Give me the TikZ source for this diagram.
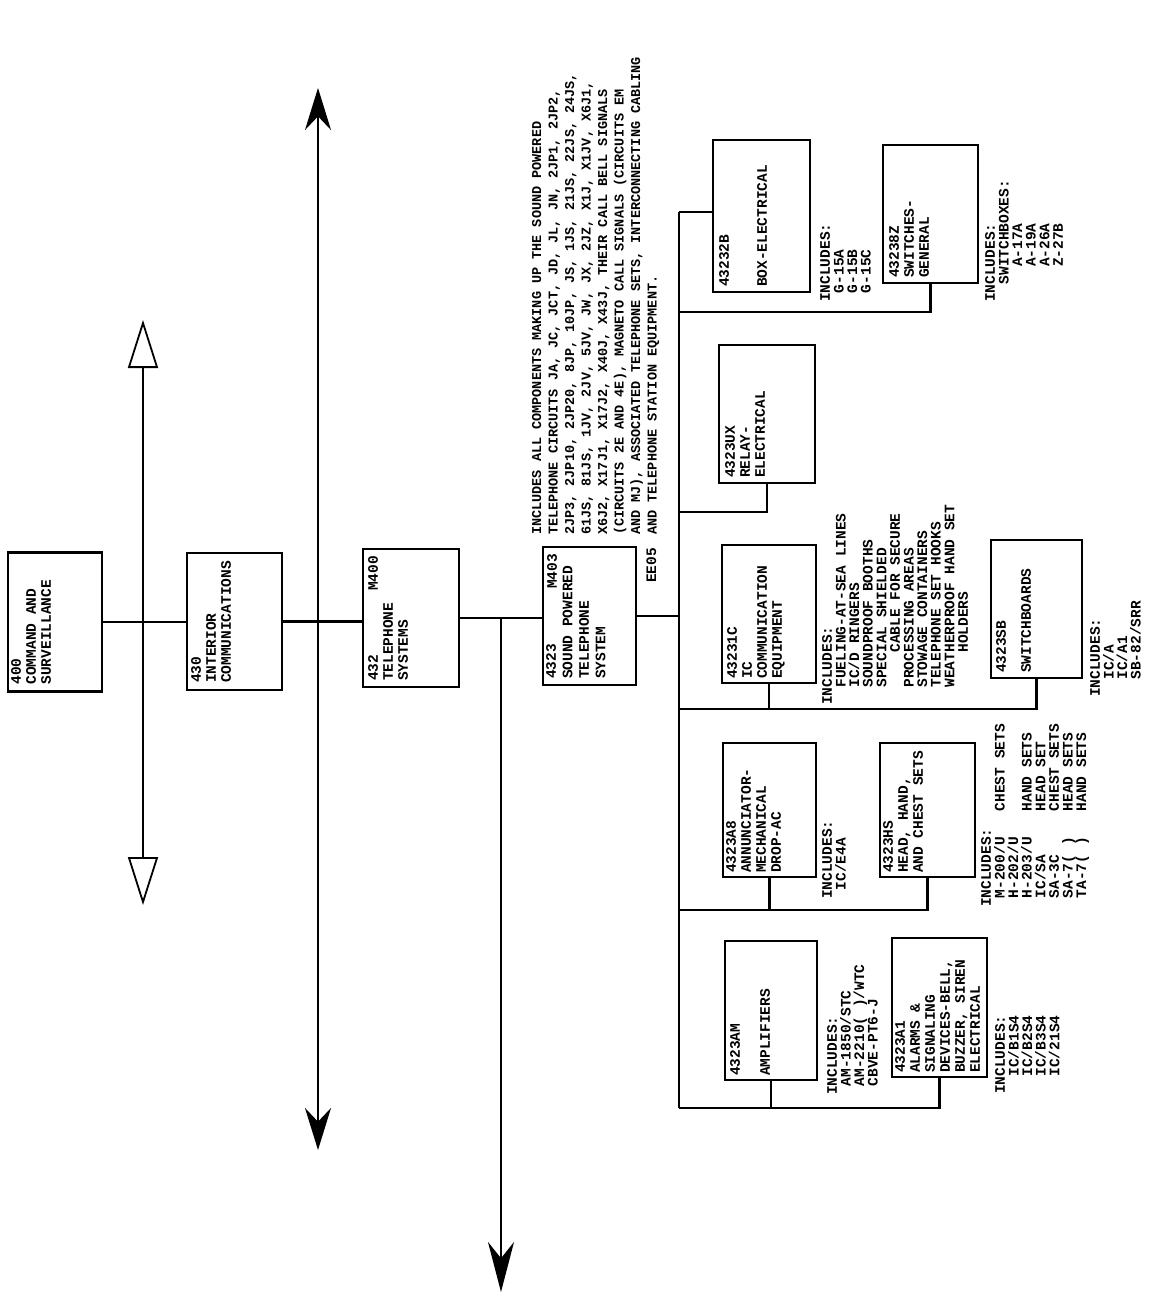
\documentclass[tikz,border=0pt]{standalone}
\usepackage{fontspec}
\setmonofont{Liberation Mono}
\usetikzlibrary{arrows.meta}

\newcommand{\boxfont}{\ttfamily\bfseries\fontsize{14.5}{15}\selectfont}
\newcommand{\listfont}{\ttfamily\bfseries\fontsize{14.5}{13.6}\selectfont}
\newcommand{\notefont}{\ttfamily\bfseries\fontsize{13.5}{16.5}\selectfont}
\newcommand{\ind}[1]{\phantom{#1}}

\begin{document}
\begin{tikzpicture}[x=1pt,y=-1pt,
  blk/.style={draw,line width=2.2pt,inner sep=0pt},
  lbl/.style={rotate=90,anchor=north west,align=left,inner sep=0pt,font=\boxfont},
  lst/.style={lbl,font=\listfont},
  wire/.style={line width=2.2pt},
  hollow/.style={line width=1.8pt,{Triangle[open,length=48pt,width=30pt]}-{Triangle[open,length=48pt,width=30pt]}},
  solid/.style={line width=2.2pt,{Stealth[length=42pt,width=26pt]}-{Stealth[length=42pt,width=26pt]}}]

\useasboundingbox (0,0) rectangle (1168,1300);

% cadena principal
\node[blk,minimum width=94pt,minimum height=139pt] (cmd) at (55,622) {};
\node[blk,minimum width=95pt,minimum height=137pt] (icm) at (234.5,621.5) {};
\node[blk,minimum width=96pt,minimum height=138pt] (tel) at (411,618) {};
\node[blk,minimum width=93pt,minimum height=138pt] (spt) at (589.5,616) {};

\node[lbl] (cmdt) at ([shift={(4,-8)}]cmd.south west) {400\\COMMAND AND\\SURVEILLANCE};
\node[lbl] (icmt) at ([shift={(5,-8)}]icm.south west) {430\\INTERIOR\\COMMUNICATIONS};
\node[lbl] (telt) at ([shift={(6,-7)}]tel.south west) {432\\TELEPHONE\\SYSTEMS};
\node[lbl,anchor=north east] (teln) at ([shift={(6,8)}]tel.north west) {M400};
\node[lbl,font=\ttfamily\bfseries\fontsize{14.5}{16.5}\selectfont] (sptt) at ([shift={(4,-7)}]spt.south west) {4323\\SOUND POWERED\\TELEPHONE\\SYSTEM};
\node[lbl,anchor=north east] (sptn) at ([shift={(5,8)}]spt.north west) {M403};
\node[lbl,anchor=north east] (ee) at ([shift={(9,2)}]spt.north east) {EE05};

% nota
\node[lbl,font=\notefont] (note) at (532,535) {INCLUDES ALL COMPONENTS MAKING UP THE SOUND POWERED\\TELEPHONE CIRCUITS JA, JC, JCT, JD, JL, JN, 2JP1, 2JP2,\\2JP3, 2JP10, 2JP20, 8JP, 10JP, JS, 1JS, 21JS, 22JS, 24JS,\\61JS, 81JS, 1JV, 2JV, 5JV, JW, JX, 2JZ, X1J, X1JV, X6J1,\\X6J2, X17J1, X17J2, X40J, X43J, THEIR CALL BELL SIGNALS\\(CIRCUITS 2E AND 4E), MAGNETO CALL SIGNALS (CIRCUITS EM\\AND MJ), ASSOCIATED TELEPHONE SETS, INTERCONNECTING CABLING\\AND TELEPHONE STATION EQUIPMENT.};

% ramas
\node[blk,minimum width=97pt,minimum height=152pt] (box) at (761.5,216) {};
\node[blk,minimum width=95pt,minimum height=138pt] (swg) at (930.5,214) {};
\node[blk,minimum width=96pt,minimum height=138pt] (rly) at (767,414) {};
\node[blk,minimum width=94pt,minimum height=138pt] (icc) at (769,614) {};
\node[blk,minimum width=91pt,minimum height=138pt] (swb) at (1036.5,609) {};
\node[blk,minimum width=93pt,minimum height=134pt] (ann) at (769.5,810) {};
\node[blk,minimum width=95pt,minimum height=134pt] (hhc) at (927.5,810) {};
\node[blk,minimum width=92pt,minimum height=139pt] (amp) at (771,1010.5) {};
\node[blk,minimum width=95pt,minimum height=139pt] (alm) at (939.5,1007.5) {};

\node[lbl] (boxt) at ([shift={(7,-6)}]box.south west) {43232B\\[23pt]BOX-ELECTRICAL};
\node[lbl] (swgt) at ([shift={(7,-6)}]swg.south west) {43238Z\\SWITCHES-\\GENERAL};
\node[lbl] (rlyt) at ([shift={(7,-6)}]rly.south west) {4323UX\\RELAY-\\ELECTRICAL};
\node[lbl] (icct) at ([shift={(6,-5)}]icc.south west) {43231C\\IC\\COMMUNICATION\\EQUIPMENT};
\node[lbl] (swbt) at ([shift={(6,-6)}]swb.south west) {4323SB\\[10pt]SWITCHBOARDS};
\node[lbl] (annt) at ([shift={(4,-5)}]ann.south west) {4323A8\\ANNUNCIATOR-\\MECHANICAL\\DROP-AC};
\node[lbl] (hhct) at ([shift={(4,-5)}]hhc.south west) {4323HS\\HEAD, HAND,\\AND CHEST SETS};
\node[lbl] (ampt) at ([shift={(6,-5)}]amp.south west) {4323AM\\[15pt]AMPLIFIERS};
\node[lbl] (almt) at ([shift={(4,-5)}]alm.south west) {4323A1\\ALARMS \&\\SIGNALING\\DEVICES-BELL,\\BUZZER, SIREN\\ELECTRICAL};

% listas
\node[lst] (boxl) at (820,302) {INCLUDES:\\\ind{X}G-15A\\\ind{X}G-15B\\\ind{X}G-15C};
\node[lst] (swgl) at (985,302) {INCLUDES:\\\ind{XX}SWITCHBOXES:\\\ind{XXXX}A-17A\\\ind{XXXX}A-19A\\\ind{XXXX}A-26A\\\ind{XXXX}Z-27B};
\node[lst] (iccl) at (822,705) {INCLUDES:\\\ind{XX}FUELING-AT-SEA LINES\\\ind{XX}IC/D RINGERS\\\ind{XX}SOUNDPROOF BOOTHS\\\ind{XX}SPECIAL SHIELDED\\\ind{XXXXXX}CABLE FOR SECURE\\\ind{XX}PROCESSING AREAS\\\ind{XX}STOWAGE CONTAINERS\\\ind{XX}TELEPHONE SET HOOKS\\\ind{XX}WEATHERPROOF HAND SET\\\ind{XXXXXX}HOLDERS};
\node[lst] (swbl) at (1090,697) {INCLUDES:\\\ind{XX}IC/A\\\ind{XX}IC/A1\\\ind{XX}SB-82/SRR};
\node[lst] (annl) at (822,899) {INCLUDES:\\\ind{X}IC/E4A};
\node[lst] (hhcl) at (981,907) {INCLUDES:\\\ind{X}M-200/U\ind{XXX}CHEST SETS\\\ind{X}H-202/U\\\ind{X}H-203/U\ind{XXX}HAND SETS\\\ind{X}IC/SA\ind{XXXXX}HEAD SET\\\ind{X}SA-3C\ind{XXXXX}CHEST SETS\\\ind{X}SA-7( )\ind{XXX}HEAD SETS\\\ind{X}TA-7( )\ind{XXX}HAND SETS};
\node[lst] (ampl) at (827,1095) {INCLUDES:\\\ind{X}AM-1850/STC\\\ind{X}AM-2210( )/WTC\\\ind{X}CBVE-PT6-J};
\node[lst] (alml) at (995,1094) {INCLUDES:\\\ind{XX}IC/B1S4\\\ind{XX}IC/B2S4\\\ind{XX}IC/B3S4\\\ind{XX}IC/21S4};

% conexiones
\coordinate (down) at (501,1292);
\coordinate (bustop) at (679,212);
\coordinate (busbot) at (679,1108);
\coordinate (t1) at (679,312);
\coordinate (t2) at (679,512);
\coordinate (t3) at (679,709);
\coordinate (t4) at (679,910);

\draw[wire] (cmd.east) -- (cmd.east -| icm.west);
\draw[wire] (icm.east) -- (icm.east -| tel.west);
\draw[wire] (tel.east) -- (tel.east -| spt.west);
\draw[wire,-{Stealth[length=50pt,width=26pt]}] (tel.east -| down) -- (down);
\draw[wire] (spt.east) -- (spt.east -| bustop);
\draw[wire] (bustop) -- (busbot);
\draw[wire] (bustop) -- (bustop -| box.west);
\draw[wire] (t1) -| (swg.south);
\draw[wire] (t2) -| (rly.south);
\draw[wire] (t3) -| (swb.south);
\draw[wire] (icc.south) -- (icc.south |- t3);
\draw[wire] (t4) -| (hhc.south);
\draw[wire] (ann.south) -- (ann.south |- t4);
\draw[wire] (busbot) -| (alm.south);
\draw[wire] (amp.south) -- (amp.south |- busbot);

% flechas
\coordinate (h1) at (143,320);
\coordinate (h2) at (143,905);
\coordinate (v1) at (318,88);
\coordinate (v2) at (318,1150);
\draw[hollow] (h1) -- (h2);
\draw[solid] (v1) -- (v2);

\end{tikzpicture}
\end{document}
